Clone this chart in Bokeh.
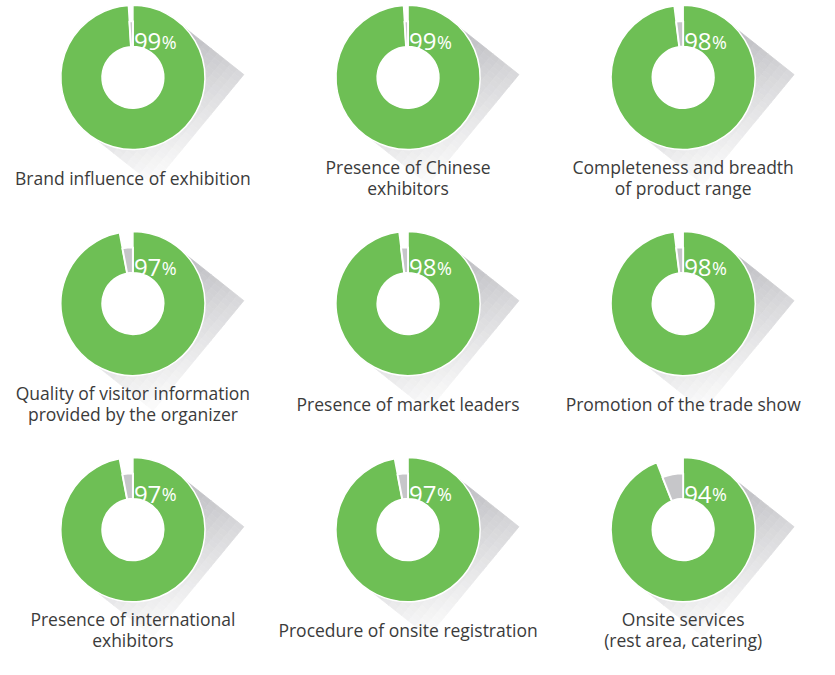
import numpy as np
from bokeh.plotting import figure
from bokeh.models import Range1d, ColumnDataSource
from bokeh.embed import file_html
from bokeh.resources import INLINE
from bokeh.core.properties import value

# ---- data ----
categories = [
    "Brand influence of exhibition",
    "Presence of Chinese\nexhibitors",
    "Completeness and breadth\nof product range",
    "Quality of visitor information\nprovided by the organizer",
    "Presence of market leaders",
    "Promotion of the trade show",
    "Presence of international\nexhibitors",
    "Procedure of onsite registration",
    "Onsite services\n(rest area, catering)",
]
satisfied = [99, 99, 98, 97, 98, 98, 97, 97, 94]

# ---- layout / style ----
W, H = 835, 675
GREEN = "#6ebf55"
GREY = "#c6c6c9"
R_OUT, R_IN, R_GREY = 73.5, 31.5, 57.5
COL_X0, COL_DX = 135, 280.5
ROW_Y0, ROW_DY = 80, 235
SH_ANG = np.deg2rad(39)
SH_LEN = 86
FONT = "Open Sans"

p = figure(width=819, height=659, output_backend="svg", toolbar_location=None,
           x_range=Range1d(0, W), y_range=Range1d(-10, H),
           x_axis_type=None, y_axis_type=None, min_border=0)
p.grid.visible = False
p.outline_line_color = None
p.background_fill_color = "white"
p.border_fill_color = "white"

cxs, cys = [], []
for i in range(len(satisfied)):
    r, c = divmod(i, 3)
    cxs.append(COL_X0 + COL_DX * c)
    cys.append(H - (ROW_Y0 + ROW_DY * r))
cxs = np.array(cxs)
cys = np.array(cys)

# ---- shadows (gradient approximated by cells) ----
D = np.array([np.cos(SH_ANG), -np.sin(SH_ANG)])
N = np.array([np.sin(SH_ANG), np.cos(SH_ANG)])
dark = np.array([0xb8, 0xb8, 0xbd])
light = np.array([0xfa, 0xfa, 0xfa])
NS, ND = 28, 10
xs_all, ys_all, cols = [], [], []
for cx, cy in zip(cxs, cys):
    C = np.array([cx, cy])
    for a in range(NS):
        n0 = R_OUT - 2 * R_OUT * a / NS
        n1 = R_OUT - 2 * R_OUT * (a + 1) / NS
        for b in range(ND):
            d0 = SH_LEN * b / ND
            d1 = SH_LEN * (b + 1) / ND
            pts = [C + d0 * D + n0 * N, C + d1 * D + n0 * N,
                   C + d1 * D + n1 * N, C + d0 * D + n1 * N]
            tn = (R_OUT - 0.5 * (n0 + n1)) / (2 * R_OUT)
            td = 0.5 * (d0 + d1) / SH_LEN
            t = min(1.0, 0.55 * tn + 0.5 * td)
            col = dark + t * (light - dark)
            cols.append("#%02x%02x%02x" % tuple(int(round(v)) for v in col))
            xs_all.append([q[0] for q in pts])
            ys_all.append([q[1] for q in pts])
p.patches(xs_all, ys_all, fill_color=cols, line_color=cols, line_width=0.8)

src = ColumnDataSource(dict(
    x=cxs, y=cys,
    g_start=[np.pi / 2] * len(satisfied),
    g_end=[np.pi / 2 - 2 * np.pi * v / 100 for v in satisfied],
    r_start=[np.pi / 2 + 2 * np.pi * (100 - v) / 100 for v in satisfied],
    r_end=[np.pi / 2] * len(satisfied),
))

# white base disk
p.circle(x="x", y="y", radius=R_OUT, fill_color="white", line_color=None, source=src)
# green part
p.annular_wedge(x="x", y="y", inner_radius=R_IN, outer_radius=R_OUT,
                start_angle="g_start", end_angle="g_end", direction="clock",
                fill_color=GREEN, line_color="white", line_width=1.5, source=src)
# grey remainder
p.annular_wedge(x="x", y="y", inner_radius=R_IN, outer_radius=R_GREY,
                start_angle="r_start", end_angle="r_end", direction="clock",
                fill_color=GREY, line_color="white", line_width=2, source=src)

# percentages
p.text(x=cxs + 1, y=cys + 37, text=[str(v) for v in satisfied],
       text_font=value(FONT), text_font_size="24px", text_color="white",
       text_align="left", text_baseline="alphabetic")
p.text(x=cxs + 29.5, y=cys + 37, text=["%"] * len(satisfied),
       text_font=value(FONT), text_font_size="18px", text_color="white",
       text_align="left", text_baseline="alphabetic")

# labels
lx, ly, lt = [], [], []
for cx, cy, lab in zip(cxs, cys, categories):
    lines = lab.split("\n")
    n = len(lines)
    for k, line in enumerate(lines):
        lx.append(cx)
        ly.append(cy - 104 - (k - (n - 1) / 2) * 22)
        lt.append(line)
p.text(x=lx, y=ly, text=lt, text_font=value(FONT), text_font_size="17.5px",
       text_color="#3b3b3b", text_align="center", text_baseline="middle")

open("out.html", "w").write(file_html(p, INLINE))
